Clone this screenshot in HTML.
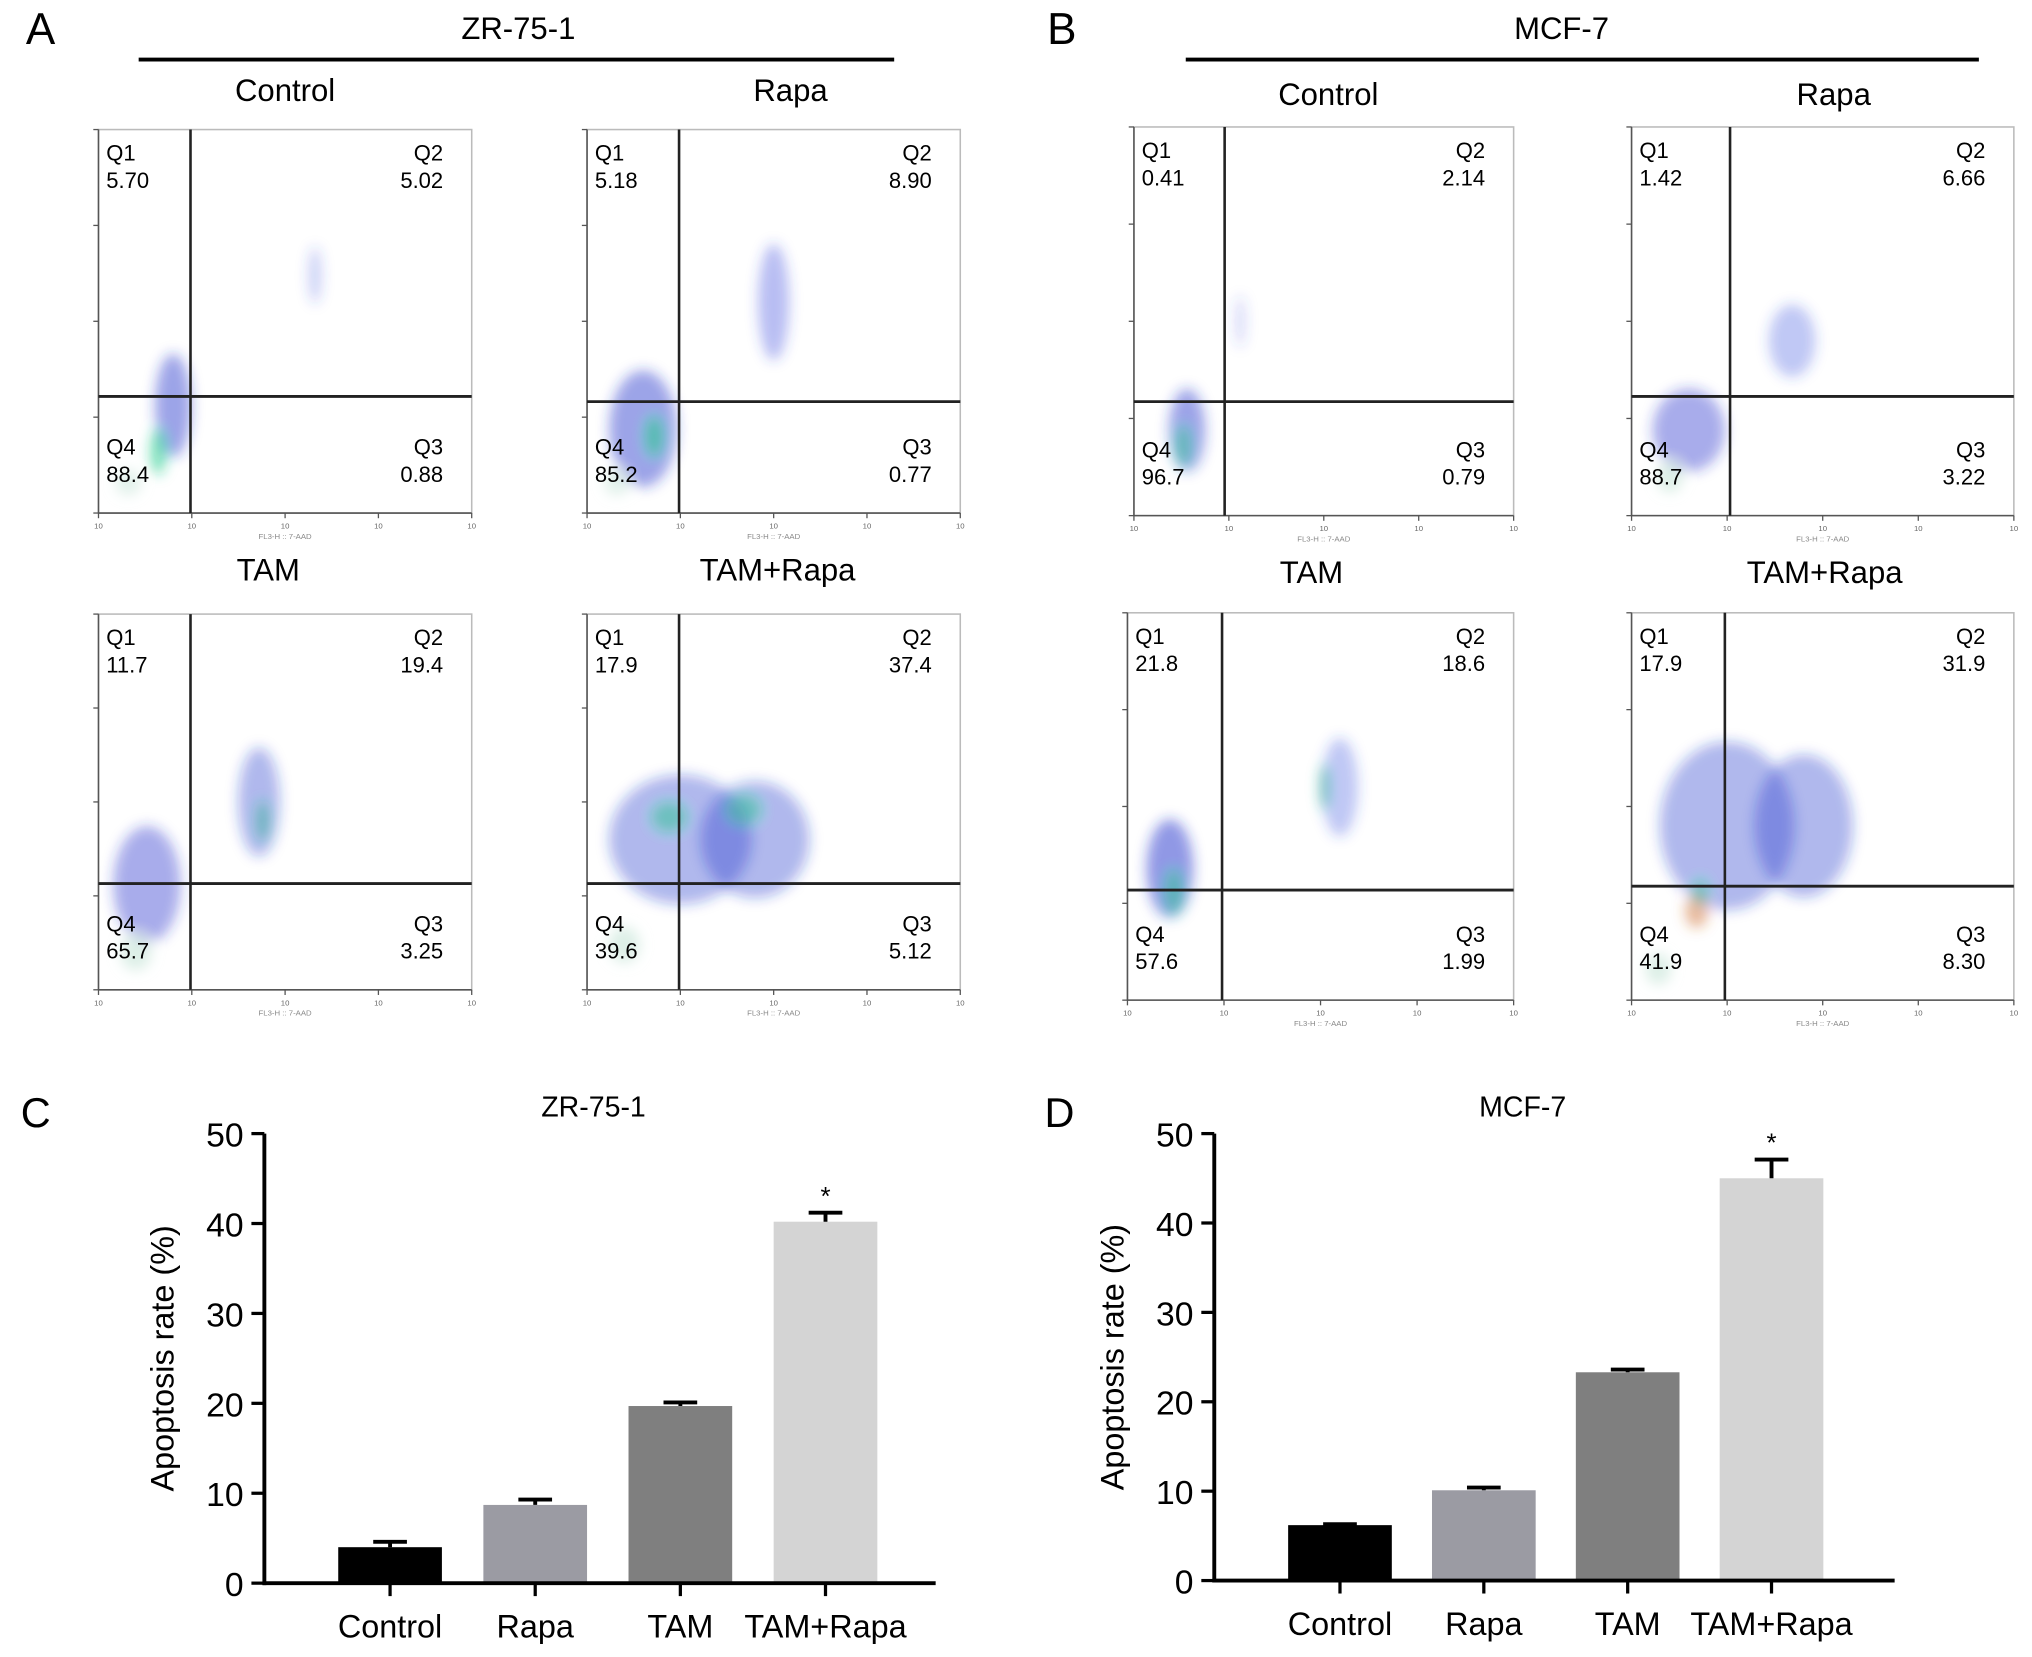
<!DOCTYPE html>
<html><head><meta charset="utf-8"><style>
html,body{margin:0;padding:0;background:#fff;}
svg{display:block;font-family:"Liberation Sans",Arial,sans-serif;}
</style></head><body>
<svg id="fig" width="2032" height="1657" viewBox="0 0 1568 1279" preserveAspectRatio="none" xmlns="http://www.w3.org/2000/svg">
<defs><filter id="bl" x="-50%" y="-50%" width="200%" height="200%"><feGaussianBlur stdDeviation="5"/></filter></defs>
<g>
<text x="20" y="34" font-size="34">A</text>
<text x="400" y="30" font-size="24" text-anchor="middle">ZR-75-1</text>
<line x1="107" y1="46" x2="690" y2="46" stroke="#000" stroke-width="3"/>
</g>
<g>
<text x="808" y="34" font-size="34">B</text>
<text x="1205" y="30" font-size="24" text-anchor="middle">MCF-7</text>
<line x1="915" y1="46" x2="1527" y2="46" stroke="#000" stroke-width="3"/>
</g>
<g id="flows"></g>
<g id="chartC"></g>
<g id="chartD"></g>
</svg>
<script>
const NS='http://www.w3.org/2000/svg';
function el(tag,attrs,parent,txt){const e=document.createElementNS(NS,tag);for(const k in attrs)e.setAttribute(k,attrs[k]);if(txt!==undefined)e.textContent=txt;parent.appendChild(e);return e;}

const panelTitles=['Control','Rapa','TAM','TAM+Rapa','Control','Rapa','TAM','TAM+Rapa'];
const q1Vals=['5.70','5.18','11.7','17.9','0.41','1.42','21.8','17.9'];
const q2Vals=['5.02','8.90','19.4','37.4','2.14','6.66','18.6','31.9'];
const q3Vals=['0.88','0.77','3.25','5.12','0.79','3.22','1.99','8.30'];
const q4Vals=['88.4','85.2','65.7','39.6','96.7','88.7','57.6','41.9'];
const boxes=[[76,100,364,396,147,306,220,70],[453,100,741,396,524,310,610,70],[76,474,364,764,147,682,207,440],[453,474,741,764,524,682,600,440],
[875,98,1168,398,945,310,1025,73],[1259,98,1554,398,1335,306,1415,73],[870,473,1168,772,943,687,1012,442],[1259,473,1554,772,1331,684,1408,442]];
const clouds=[
 [[0.2,0.72,14,40,'#2233cc',0.45],[0.16,0.84,6,18,'#22cc88',0.6],[0.58,0.38,5,22,'#3344dd',0.25],[0.08,0.92,10,10,'#cfe8dd',0.6]],
 [[0.15,0.78,26,45,'#2233cc',0.45],[0.18,0.8,7,16,'#22cc88',0.6],[0.5,0.45,12,45,'#3344dd',0.35],[0.08,0.92,10,10,'#cfe8dd',0.6]],
 [[0.13,0.72,26,45,'#2233cc',0.4],[0.43,0.5,16,42,'#2233cc',0.35],[0.44,0.55,5,16,'#22aa88',0.5],[0.1,0.9,12,14,'#cfe8dd',0.7]],
 [[0.25,0.6,55,50,'#2233cc',0.35],[0.45,0.6,42,45,'#2233cc',0.35],[0.22,0.54,14,12,'#22cc88',0.45],[0.42,0.52,14,12,'#22cc88',0.45],[0.1,0.88,12,14,'#cfe8dd',0.7]],
 [[0.14,0.78,14,32,'#2233cc',0.45],[0.13,0.82,6,16,'#22cc88',0.5],[0.28,0.5,4,20,'#3344dd',0.2]],
 [[0.15,0.78,28,32,'#2233cc',0.4],[0.42,0.55,18,28,'#3344dd',0.3],[0.1,0.9,10,12,'#cfe8dd',0.7]],
 [[0.11,0.66,18,38,'#2233cc',0.5],[0.12,0.72,7,18,'#22cc88',0.5],[0.55,0.45,14,38,'#3344dd',0.3],[0.51,0.45,4,18,'#22aa88',0.5]],
 [[0.25,0.55,52,65,'#2233cc',0.35],[0.45,0.55,38,55,'#2233cc',0.35],[0.17,0.77,9,13,'#cc6622',0.45],[0.18,0.72,6,10,'#22cc88',0.45],[0.07,0.92,10,12,'#cfe8dd',0.7]]
];
const flows=document.getElementById('flows');
boxes.forEach((b,i)=>{
 const [x0,y0,x1,y1,gx,gy,tx,ty]=b;
 const g=el('g',{},flows);
 
 
 el('text',{x:tx,y:ty+8,'font-size':24,'text-anchor':'middle'},g,panelTitles[i]);
 const cg=el('g',{filter:'url(#bl)'},g);
 clouds[i].forEach(c=>{el('ellipse',{cx:x0+c[0]*(x1-x0),cy:y0+c[1]*(y1-y0),rx:c[2],ry:c[3],fill:c[4],opacity:c[5]},cg);});
 el('rect',{x:x0,y:y0,width:x1-x0,height:y1-y0,fill:'none',stroke:'#bbb','stroke-width':1.2},g);
 el('line',{x1:x0,y1:y0,x2:x0,y2:y1,stroke:'#555','stroke-width':1.2},g);
 el('line',{x1:x0,y1:y1,x2:x1,y2:y1,stroke:'#555','stroke-width':1.2},g);
 el('line',{x1:gx,y1:y0,x2:gx,y2:y1,stroke:'#222','stroke-width':2},g);
 el('line',{x1:x0,y1:gy,x2:x1,y2:gy,stroke:'#222','stroke-width':2.2},g);
 for(let k=0;k<5;k++){const xx=x0+k*(x1-x0)/4, yy=y1-k*(y1-y0)/4;
  el('line',{x1:xx,y1:y1,x2:xx,y2:y1+4,stroke:'#555'},g);
  el('line',{x1:x0-4,y1:yy,x2:x0,y2:yy,stroke:'#555'},g);
  el('text',{x:xx,y:y1+12,'font-size':6,fill:'#666','text-anchor':'middle'},g,'10');
 }
 el('text',{x:(x0+x1)/2,y:y1+20,'font-size':6,fill:'#888','text-anchor':'middle'},g,'FL3-H :: 7-AAD');
 const fs=17;
 el('text',{x:x0+6,y:y0+24,'font-size':fs},g,'Q1');
 el('text',{x:x0+6,y:y0+45,'font-size':fs},g,q1Vals[i]);
 el('text',{x:x1-22,y:y0+24,'font-size':fs,'text-anchor':'end'},g,'Q2');
 el('text',{x:x1-22,y:y0+45,'font-size':fs,'text-anchor':'end'},g,q2Vals[i]);
 el('text',{x:x0+6,y:y1-45,'font-size':fs},g,'Q4');
 el('text',{x:x0+6,y:y1-24,'font-size':fs},g,q4Vals[i]);
 el('text',{x:x1-22,y:y1-45,'font-size':fs,'text-anchor':'end'},g,'Q3');
 el('text',{x:x1-22,y:y1-24,'font-size':fs,'text-anchor':'end'},g,q3Vals[i]);
});

const categories=['Control','Rapa','TAM','TAM+Rapa'];
const zrValues=[4.0,8.7,19.7,40.2];
const zrErrors=[0.6,0.6,0.4,1.0];
const mcfValues=[6.2,10.1,23.3,45.0];
const mcfErrors=[0.1,0.3,0.3,2.1];
const yTicks=[0,10,20,30,40,50];
const barColors=['#000000','#9b9ba3','#7f7f7f','#d4d4d4'];
const sigFlags=[false,false,false,true];

function barChart(gid,letter,title,values,errors,ax){
 const g=document.getElementById(gid);
 const {x0,x1,yTop,yBot,first,step,bw,lx,tx}=ax;
 const y=v=>yBot-(v/50)*(yBot-yTop);
 const xc=i=>first+i*step;
 el('text',{x:lx,y:870,'font-size':32},g,letter);
 el('text',{x:tx,y:862,'font-size':22,'text-anchor':'middle'},g,title);
 values.forEach((v,i)=>{
  const r=el('rect',{x:xc(i)-bw/2,y:y(v),width:bw,height:yBot-y(v),fill:barColors[i]},g);
  
  
  const e=el('path',{d:`M${xc(i)},${y(v)}V${y(v+errors[i])}M${xc(i)-13},${y(v+errors[i])}H${xc(i)+13}`,stroke:'#000','stroke-width':3,fill:'none'},g);
  
  
  if(sigFlags[i]){const s=el('text',{x:xc(i),y:y(v+errors[i])-6,'font-size':20,'text-anchor':'middle'},g,'*');
   
   }
  el('line',{x1:xc(i),y1:yBot,x2:xc(i),y2:yBot+10,stroke:'#000','stroke-width':2.5},g);
  const t=el('text',{x:xc(i),y:yBot+42,'font-size':25,'text-anchor':'middle'},g,categories[i]);
  
  
 });
 el('line',{x1:x0,y1:yTop,x2:x0,y2:yBot+1.5,stroke:'#000','stroke-width':3},g);
 el('line',{x1:x0-1.5,y1:yBot,x2:x1,y2:yBot,stroke:'#000','stroke-width':3},g);
 yTicks.forEach(t=>{
  el('line',{x1:x0-10,y1:y(t),x2:x0,y2:y(t),stroke:'#000','stroke-width':2.5},g);
  const l=el('text',{x:x0-16,y:y(t)+10,'font-size':26,'text-anchor':'end'},g,String(t));
  
  
 });
 const yt=el('text',{x:0,y:0,'font-size':25,'text-anchor':'middle',transform:`translate(${x0-70},${(yTop+yBot)/2}) rotate(-90)`},g,'Apoptosis rate (%)');
 
 
}
barChart('chartC','C','ZR-75-1',zrValues,zrErrors,{x0:204,x1:722,yTop:875,yBot:1222,first:301,step:112,bw:80,lx:16,tx:458});
barChart('chartD','D','MCF-7',mcfValues,mcfErrors,{x0:937,x1:1462,yTop:875,yBot:1220,first:1034,step:111,bw:80,lx:806,tx:1175});
</script>
</body></html>
